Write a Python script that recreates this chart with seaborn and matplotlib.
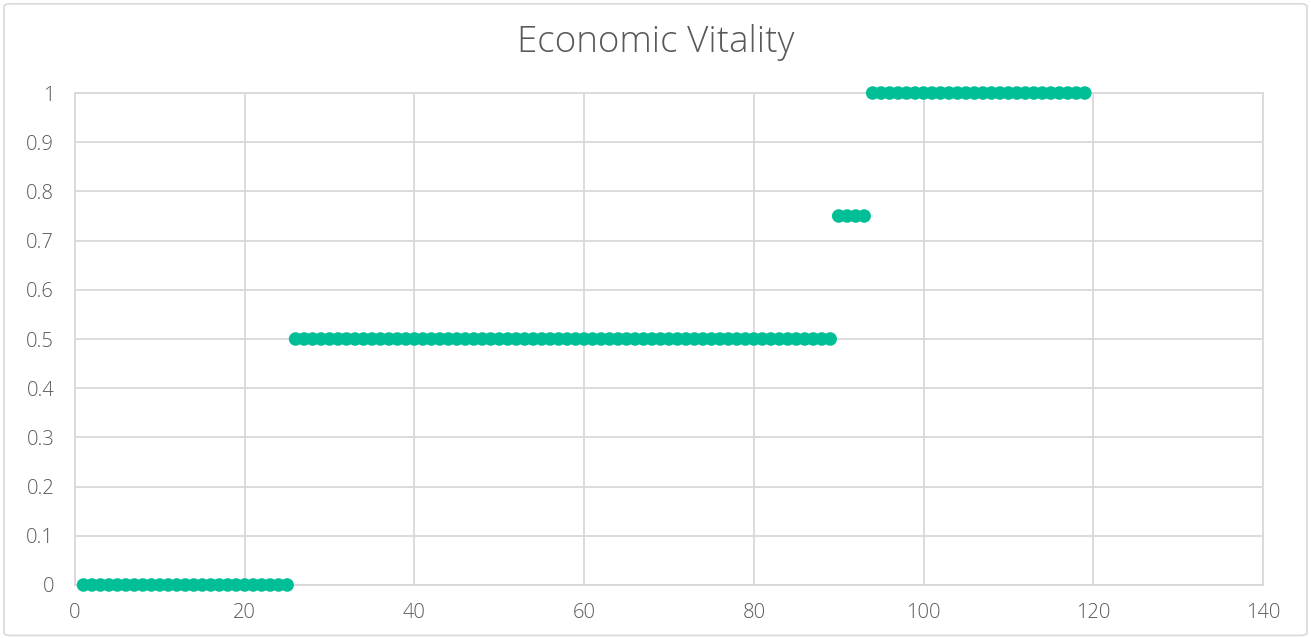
import matplotlib
matplotlib.use("Agg")
import matplotlib.pyplot as plt
from matplotlib.patches import FancyBboxPatch
import seaborn as sns
import pandas as pd

# Record number along x, vitality score along y
record = list(range(1, 120))
vitality = (
    [0, 0, 0, 0, 0, 0, 0, 0, 0, 0, 0, 0, 0, 0, 0, 0, 0, 0, 0, 0, 0, 0, 0, 0, 0]
    + [0.5, 0.5, 0.5, 0.5, 0.5, 0.5, 0.5, 0.5, 0.5, 0.5, 0.5, 0.5, 0.5, 0.5, 0.5, 0.5,
       0.5, 0.5, 0.5, 0.5, 0.5, 0.5, 0.5, 0.5, 0.5, 0.5, 0.5, 0.5, 0.5, 0.5, 0.5, 0.5,
       0.5, 0.5, 0.5, 0.5, 0.5, 0.5, 0.5, 0.5, 0.5, 0.5, 0.5, 0.5, 0.5, 0.5, 0.5, 0.5,
       0.5, 0.5, 0.5, 0.5, 0.5, 0.5, 0.5, 0.5, 0.5, 0.5, 0.5, 0.5, 0.5, 0.5, 0.5, 0.5]
    + [0.75, 0.75, 0.75, 0.75]
    + [1, 1, 1, 1, 1, 1, 1, 1, 1, 1, 1, 1, 1, 1, 1, 1, 1, 1, 1, 1, 1, 1, 1, 1, 1, 1]
)
x_ticks = [0, 20, 40, 60, 80, 100, 120, 140]
y_ticks = [0, 0.1, 0.2, 0.3, 0.4, 0.5, 0.6, 0.7, 0.8, 0.9, 1]
y_tick_labels = ["0", "0.1", "0.2", "0.3", "0.4", "0.5", "0.6", "0.7", "0.8", "0.9", "1"]

df = pd.DataFrame({"record": record, "vitality": vitality})

sns.set_theme(style="white")
plt.rcParams["font.family"] = ["Open Sans", "DejaVu Sans"]

text_color = "#595959"
grid_color = "#D9D9D9"
point_color = "#00BF96"

fig = plt.figure(figsize=(13.11, 6.38), dpi=100)
ax = fig.add_axes([0.0572, 0.0831, 0.9062, 0.7711])

# Chart frame
frame = FancyBboxPatch((0.003, 0.004), 0.994, 0.99, boxstyle="round,pad=0,rounding_size=0.005",
                       transform=fig.transFigure, facecolor="white", edgecolor="#D9D9D9",
                       linewidth=1.2, zorder=-10)
fig.patches.append(frame)

sns.scatterplot(data=df, x="record", y="vitality", ax=ax, color=point_color,
                s=95, edgecolor="none", linewidth=0, zorder=3, clip_on=False)

ax.set_xlim(0, 140)
ax.set_ylim(0, 1)
ax.set_xticks(x_ticks)
ax.set_xticklabels([str(t) for t in x_ticks])
ax.set_yticks(y_ticks)
ax.set_yticklabels(y_tick_labels)
ax.grid(True, color=grid_color, linewidth=1.3)
ax.set_axisbelow(True)
for side in ["top", "right", "left", "bottom"]:
    ax.spines[side].set_color(grid_color)
    ax.spines[side].set_linewidth(1.3)
ax.tick_params(axis="both", length=0, labelsize=14.5, colors=text_color)
ax.tick_params(axis="y", pad=15)
ax.tick_params(axis="x", pad=13)
for lbl in ax.get_xticklabels() + ax.get_yticklabels():
    lbl.set_fontweight("light")
ax.set_xlabel("")
ax.set_ylabel("")
ax.set_facecolor("white")

fig.text(0.5, 0.933, "Economic Vitality", ha="center", va="center",
         fontsize=26.5, color=text_color, fontweight="light")

fig.savefig("out.png", dpi=100, facecolor="white")
